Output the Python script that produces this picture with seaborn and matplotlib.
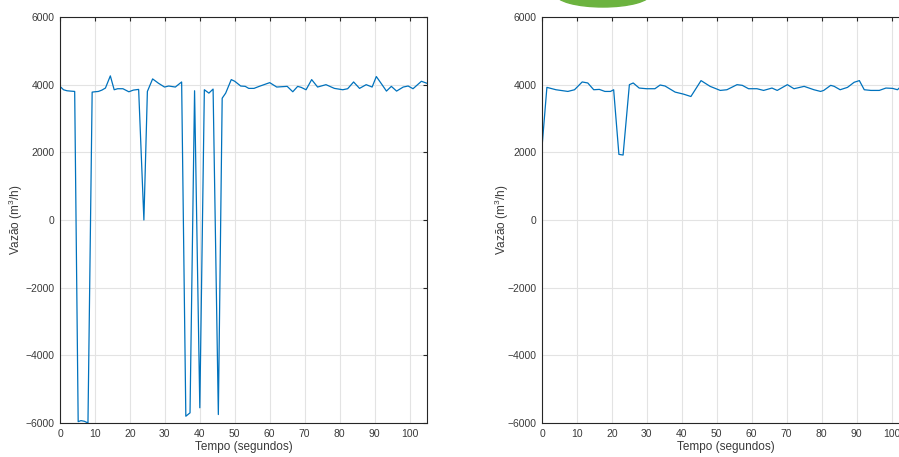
import matplotlib
matplotlib.use("Agg")
import matplotlib.pyplot as plt
import seaborn as sns
import pandas as pd
from matplotlib.patches import Ellipse

# ---- data ----
t_left = [0, 1, 2, 3, 4.2, 5.2, 6, 7, 8, 9.2, 10, 11, 12, 13, 14.4, 15.5, 16.5, 18,
          19.7, 21, 22.5, 24, 25, 26.5, 28.2, 29.9, 31.1, 33, 34.8, 36, 37.2, 38.5,
          40, 41.3, 42.6, 43.8, 45.3, 46.4, 47.4, 49, 50, 51.7, 53, 54, 55.5, 57,
          60, 62, 65, 66.6, 68, 69, 70.4, 72, 73.7, 76.1, 78.5, 80.9, 82.3, 84,
          85.7, 87.6, 89.3, 90.5, 92, 93.4, 94.8, 96.3, 98.2, 99.6, 101, 103.4, 105]
v_left = [3950, 3850, 3820, 3810, 3800, -5960, -5930, -5950, -6000, 3780, 3790, 3800,
          3840, 3900, 4260, 3850, 3880, 3880, 3790, 3840, 3860, 0, 3800, 4170, 4040,
          3930, 3960, 3930, 4080, -5800, -5700, 3820, -5550, 3850, 3750, 3870, -5750,
          3600, 3750, 4150, 4100, 3960, 3950, 3890, 3890, 3950, 4060, 3930, 3950,
          3790, 3950, 3920, 3850, 4150, 3930, 4000, 3890, 3850, 3880, 4080, 3890,
          4000, 3930, 4240, 4020, 3810, 3950, 3810, 3930, 3960, 3880, 4100, 4040]

t_right = [0, 1.4, 4, 7.4, 9.3, 11.5, 13.1, 14.8, 16.4, 18, 19.6, 20.5, 22, 23.2, 25,
           26.1, 27.8, 29.9, 32.3, 33.8, 35.2, 38.1, 40.5, 42.6, 45.5, 48.1, 51,
           52.9, 55.8, 57.3, 59.1, 61.5, 63.4, 65.8, 67.3, 70.2, 72.1, 75, 77.8,
           79.7, 80.6, 82.6, 83.6, 85.3, 87.4, 89.3, 90.8, 92.2, 94.1, 96.5, 98.4,
           100.3, 101.7, 102.4, 105]
v_right = [2150, 3920, 3850, 3800, 3850, 4080, 4050, 3850, 3860, 3800, 3800, 3850,
           1940, 1920, 4000, 4050, 3900, 3880, 3880, 3990, 3960, 3780, 3720, 3650,
           4120, 3950, 3830, 3850, 4000, 3980, 3880, 3880, 3830, 3900, 3830, 4000,
           3880, 3950, 3850, 3800, 3830, 3980, 3950, 3850, 3920, 4070, 4120, 3850,
           3830, 3830, 3900, 3890, 3850, 3920, 3900]

x_ticks = list(range(0, 101, 10))
y_ticks = list(range(-6000, 6001, 2000))
x_label = "Tempo (segundos)"
y_label = "Vazão (m$^3$/h)"

sns.set_style("white")
plt.rcParams['font.family'] = ['Liberation Sans', 'DejaVu Sans']
plt.rcParams['mathtext.fontset'] = 'custom'
plt.rcParams['mathtext.rm'] = 'Liberation Sans'

W, H = 899, 457
fig = plt.figure(figsize=(W / 100, H / 100), dpi=100)

line_color = "#0072BD"
spine_color = "#262626"
text_color = "#3a3a3a"

def make_axes(left_px, t, v, label_off):
    ax = fig.add_axes([left_px / W, 1 - 423 / H, 367 / W, (423 - 17) / H])
    df = pd.DataFrame({"t": t, "v": v})
    sns.lineplot(data=df, x="t", y="v", ax=ax, color=line_color, linewidth=0.9,
                 estimator=None, sort=False)
    ax.set_xlim(0, 105)
    ax.set_ylim(-6000, 6000)
    ax.set_xticks(x_ticks)
    ax.set_yticks(y_ticks)
    ax.grid(True, color="#e3e3e3", linewidth=0.8)
    ax.set_axisbelow(True)
    for s in ax.spines.values():
        s.set_visible(True)
        s.set_color(spine_color)
        s.set_linewidth(0.8)
    ax.tick_params(direction="in", length=3, width=0.8, color=spine_color,
                   top=True, right=True, labelsize=7.5, labelcolor=text_color,
                   pad=4)
    ax.set_xlabel(x_label, fontsize=8.5, color=text_color, labelpad=2)
    ax.set_ylabel(y_label, fontsize=8.5, color=text_color, va="center")
    ax.yaxis.set_label_coords(-label_off / 367, 0.5)
    return ax

make_axes(60, t_left, v_left, 44)
make_axes(542, t_right, v_right, 40)

# green logo partially visible at the top
logo = Ellipse((603 / W, 1 + 6 / H), 95 / W, 26 / H, transform=fig.transFigure,
               color="#6cb33f", clip_on=False)
fig.patches.append(logo)

fig.savefig("out.png", dpi=100)
